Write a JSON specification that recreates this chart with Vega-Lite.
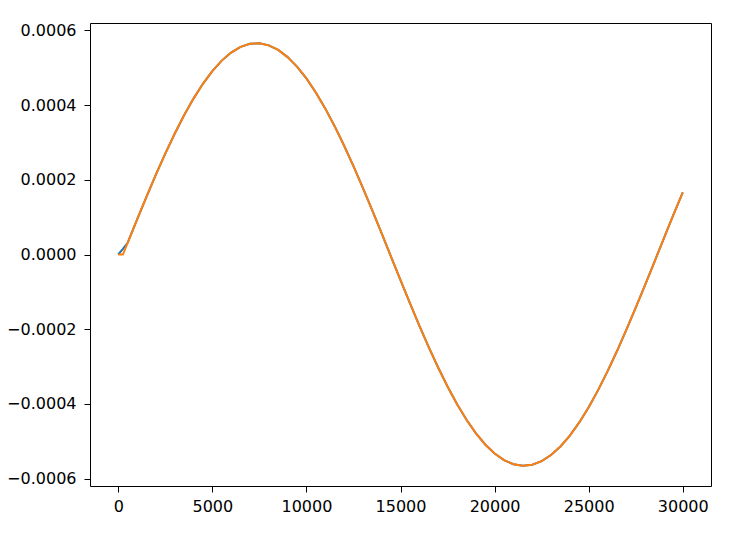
{
  "$schema": "https://vega.github.io/schema/vega-lite/v6.json",
  "width": 621,
  "height": 463,
  "autosize": {"type": "none"},
  "padding": {"left": 90, "top": 23, "right": 42, "bottom": 53},
  "data": {
    "values": [
      {"x": 0, "blue": 0, "orange": 0},
      {"x": 250, "blue": 0.000015, "orange": 0},
      {"x": 500, "blue": 0.0000313, "orange": 0.0000313},
      {"x": 1000, "blue": 0.0000935, "orange": 0.0000935},
      {"x": 1500, "blue": 0.0001545, "orange": 0.0001545},
      {"x": 2000, "blue": 0.0002137, "orange": 0.0002137},
      {"x": 2500, "blue": 0.0002703, "orange": 0.0002703},
      {"x": 3000, "blue": 0.0003235, "orange": 0.0003235},
      {"x": 3500, "blue": 0.0003728, "orange": 0.0003728},
      {"x": 4000, "blue": 0.0004175, "orange": 0.0004175},
      {"x": 4500, "blue": 0.0004572, "orange": 0.0004572},
      {"x": 5000, "blue": 0.0004912, "orange": 0.0004912},
      {"x": 5500, "blue": 0.0005193, "orange": 0.0005193},
      {"x": 6000, "blue": 0.0005409, "orange": 0.0005409},
      {"x": 6500, "blue": 0.000556, "orange": 0.000556},
      {"x": 7000, "blue": 0.0005643, "orange": 0.0005643},
      {"x": 7500, "blue": 0.0005657, "orange": 0.0005657},
      {"x": 8000, "blue": 0.0005602, "orange": 0.0005602},
      {"x": 8500, "blue": 0.0005478, "orange": 0.0005478},
      {"x": 9000, "blue": 0.0005287, "orange": 0.0005287},
      {"x": 9500, "blue": 0.0005032, "orange": 0.0005032},
      {"x": 10000, "blue": 0.0004715, "orange": 0.0004715},
      {"x": 10500, "blue": 0.000434, "orange": 0.000434},
      {"x": 11000, "blue": 0.0003913, "orange": 0.0003913},
      {"x": 11500, "blue": 0.0003437, "orange": 0.0003437},
      {"x": 12000, "blue": 0.000292, "orange": 0.000292},
      {"x": 12500, "blue": 0.0002367, "orange": 0.0002367},
      {"x": 13000, "blue": 0.0001785, "orange": 0.0001785},
      {"x": 13500, "blue": 0.0001181, "orange": 0.0001181},
      {"x": 14000, "blue": 0.0000563, "orange": 0.0000563},
      {"x": 14500, "blue": -0.0000063, "orange": -0.0000063},
      {"x": 15000, "blue": -0.0000687, "orange": -0.0000687},
      {"x": 15500, "blue": -0.0001303, "orange": -0.0001303},
      {"x": 16000, "blue": -0.0001903, "orange": -0.0001903},
      {"x": 16500, "blue": -0.000248, "orange": -0.000248},
      {"x": 17000, "blue": -0.0003026, "orange": -0.0003026},
      {"x": 17500, "blue": -0.0003536, "orange": -0.0003536},
      {"x": 18000, "blue": -0.0004002, "orange": -0.0004002},
      {"x": 18500, "blue": -0.000442, "orange": -0.000442},
      {"x": 19000, "blue": -0.0004783, "orange": -0.0004783},
      {"x": 19500, "blue": -0.0005088, "orange": -0.0005088},
      {"x": 20000, "blue": -0.000533, "orange": -0.000533},
      {"x": 20500, "blue": -0.0005508, "orange": -0.0005508},
      {"x": 21000, "blue": -0.0005618, "orange": -0.0005618},
      {"x": 21500, "blue": -0.000566, "orange": -0.000566},
      {"x": 22000, "blue": -0.0005632, "orange": -0.0005632},
      {"x": 22500, "blue": -0.0005535, "orange": -0.0005535},
      {"x": 23000, "blue": -0.0005371, "orange": -0.0005371},
      {"x": 23500, "blue": -0.0005141, "orange": -0.0005141},
      {"x": 24000, "blue": -0.0004849, "orange": -0.0004849},
      {"x": 24500, "blue": -0.0004497, "orange": -0.0004497},
      {"x": 25000, "blue": -0.000409, "orange": -0.000409},
      {"x": 25500, "blue": -0.0003633, "orange": -0.0003633},
      {"x": 26000, "blue": -0.0003131, "orange": -0.0003131},
      {"x": 26500, "blue": -0.0002592, "orange": -0.0002592},
      {"x": 27000, "blue": -0.000202, "orange": -0.000202},
      {"x": 27500, "blue": -0.0001424, "orange": -0.0001424},
      {"x": 28000, "blue": -0.0000811, "orange": -0.0000811},
      {"x": 28500, "blue": -0.0000188, "orange": -0.0000188},
      {"x": 29000, "blue": 0.0000438, "orange": 0.0000438},
      {"x": 29500, "blue": 0.0001058, "orange": 0.0001058},
      {"x": 30000, "blue": 0.0001666, "orange": 0.0001666}
    ]
  },
  "transform": [
    {"fold": ["blue", "orange"], "as": ["series", "value"]}
  ],
  "mark": {"type": "line", "strokeWidth": 2},
  "encoding": {
    "x": {
      "field": "x",
      "type": "quantitative",
      "title": null,
      "scale": {"domain": [-1500, 31500], "nice": false, "zero": false},
      "axis": {"values": [0, 5000, 10000, 15000, 20000, 25000, 30000], "format": "d"}
    },
    "y": {
      "field": "value",
      "type": "quantitative",
      "title": null,
      "scale": {"domain": [-0.00062, 0.00062], "nice": false, "zero": false},
      "axis": {"values": [-0.0006, -0.0004, -0.0002, 0, 0.0002, 0.0004, 0.0006], "format": ".4f", "labelPadding": 8}
    },
    "color": {
      "field": "series",
      "type": "nominal",
      "legend": null,
      "scale": {"domain": ["blue", "orange"], "range": ["#1f77b4", "#ff7f0e"]}
    },
    "order": {"field": "x", "type": "quantitative"}
  },
  "config": {
    "view": {"stroke": "black", "strokeWidth": 1},
    "axis": {
      "grid": false,
      "domain": false,
      "tickColor": "black",
      "tickSize": 6,
      "labelPadding": 6,
      "labelColor": "black",
      "labelFont": "DejaVu Sans",
      "labelFontSize": 16,
      "labelFlush": false,
      "labelOverlap": false
    }
  }
}
